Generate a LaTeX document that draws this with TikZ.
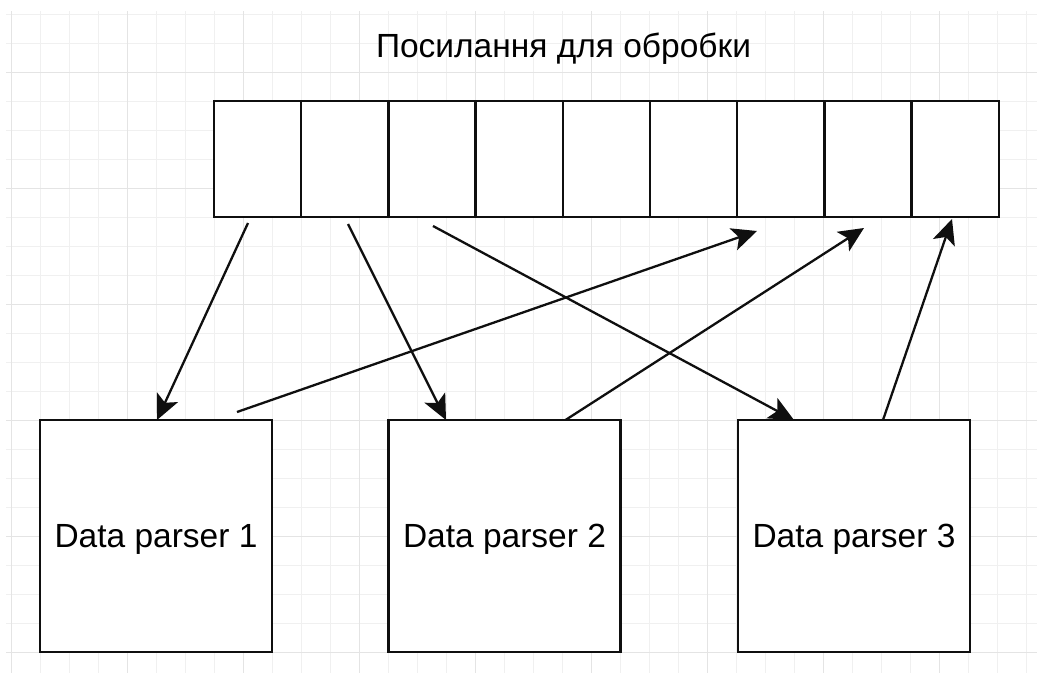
\documentclass[tikz,border=0pt]{standalone}
\usepackage{fontspec}
\setmainfont{Liberation Sans}
\usetikzlibrary{arrows.meta,calc}
\definecolor{gridminor}{RGB}{240,240,240}
\definecolor{gridmajor}{RGB}{228,228,228}
\definecolor{ink}{RGB}{15,15,15}
\begin{document}
\begin{tikzpicture}[x=1pt,y=-1pt,
  minorline/.style={draw=gridminor,line width=1pt},
  majorline/.style={draw=gridmajor,line width=1pt},
  cell/.style={draw=ink,line width=2.3pt,minimum width=87.2pt,minimum height=116pt,inner sep=0pt,outer sep=0pt,anchor=north west,fill=white},
  parser/.style={draw=ink,line width=2.3pt,minimum width=232pt,minimum height=232pt,inner sep=0pt,outer sep=0pt,anchor=north west,fill=white,font=\fontsize{33.5}{40}\selectfont,text depth=0pt},
  lbl/.style={font=\fontsize{33.5}{40}\selectfont,anchor=base,inner sep=0pt},
  conn/.style={draw=ink,line width=2.3pt,-{Stealth[length=25pt,width=23pt,inset=6pt]}}
]
\useasboundingbox (0,0) rectangle (1037,673);
\fill[white] (0,0) rectangle (1037,673);
% grid
\foreach \i in {0,...,35} \draw[minorline] ({11+29*\i},11) -- ({11+29*\i},673);
\foreach \j in {0,...,22} \draw[minorline] (6,{14+29*\j}) -- (1037,{14+29*\j});
\foreach \i in {0,4,...,32} \draw[majorline] ({11+29*\i},11) -- ({11+29*\i},673);
\foreach \j in {2,6,...,22} \draw[majorline] (6,{14+29*\j}) -- (1037,{14+29*\j});
% title
\node[lbl] (title) at (563.5,57) {Посилання для обробки};
% array cells
\foreach \k in {1,...,9} \node[cell] (c\k) at ({214+87.2*(\k-1)},101) {};
% parsers
\node[parser] (p1) at (40,420) {Data parser 1};
\node[parser] (p2) at (388.5,420) {Data parser 2};
\node[parser] (p3) at (738,420) {Data parser 3};
% free ends
\coordinate (a1s) at (248,223);
\coordinate (a2s) at (348,224);
\coordinate (a3s) at (433,226);
\coordinate (a4e) at (757,231);
\coordinate (a5e) at (864,228);
\coordinate (a6e) at (952,219);
% connectors
\draw[conn] (a1s) -- ($(p1.north west)+(117,0)$);
\draw[conn] (a2s) -- ($(p2.north west)+(57.5,0)$);
\draw[conn] (a3s) -- ($(p3.north west)+(56,0)$);
\draw[conn] ($(p1.north west)+(197,-8)$) -- (a4e);
\draw[conn] ($(p2.north west)+(177,0)$) -- (a5e);
\draw[conn] ($(p3.north west)+(145,0)$) -- (a6e);
\end{tikzpicture}
\end{document}
